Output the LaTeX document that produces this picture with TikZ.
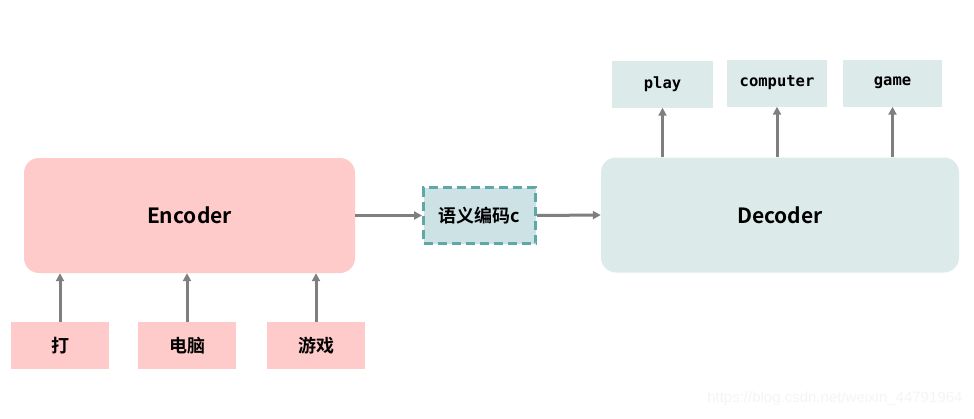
\documentclass[tikz,border=0pt]{standalone}
\usepackage{fontspec}
\setmainfont{Noto Sans CJK SC}[BoldFont={* Bold}]
\newfontfamily\monofont{DejaVu Sans Mono}
\newfontfamily\markfont{Liberation Sans}
\usetikzlibrary{arrows.meta}

\definecolor{pinkfill}{HTML}{FFCACA}
\definecolor{tealfill}{HTML}{DCEAEA}
\definecolor{codefill}{HTML}{CCE2E5}
\definecolor{codeedge}{HTML}{5FA8A8}
\definecolor{arrowgray}{HTML}{7F7F7F}

\tikzset{
	bigbox/.style={rounded corners=15pt, draw=none, minimum height=115pt, font=\bfseries\fontsize{21}{24}\selectfont},
	smallbox/.style={draw=none, minimum height=47pt, minimum width=98pt},
	flow/.style={draw=arrowgray, line width=3pt, -{Triangle[length=8pt,width=8pt]}},
}

\begin{document}
\begin{tikzpicture}[x=1pt,y=-1pt]
	\useasboundingbox[fill=white] (0,0) rectangle (974,418);

	% encoder side
	\node[bigbox, fill=pinkfill, minimum width=331pt] (enc) at (189.5,215.5) {Encoder};
	\node[smallbox, fill=pinkfill, font=\bfseries\fontsize{18}{20}\selectfont] (in1) at (60,345.5) {打};
	\node[smallbox, fill=pinkfill, font=\bfseries\fontsize{18}{20}\selectfont] (in2) at (187,345.5) {电脑};
	\node[smallbox, fill=pinkfill, font=\bfseries\fontsize{18}{20}\selectfont] (in3) at (316,345.5) {游戏};

	% semantic code
	\node[fill=codefill, draw=codeedge, line width=3pt, dash pattern=on 9pt off 5pt,
		minimum width=112pt, minimum height=56pt, font=\bfseries\fontsize{18}{20}\selectfont] (code) at (479.5,215.5) {语义编码c};

	% decoder side
	\node[bigbox, fill=tealfill, minimum width=358pt] (dec) at (780,215) {Decoder};
	\node[smallbox, fill=tealfill, minimum width=101pt, font=\monofont\bfseries\fontsize{15.5}{18}\selectfont] (out1) at (662.5,84) {play};
	\node[smallbox, fill=tealfill, minimum width=100pt, font=\monofont\bfseries\fontsize{15.5}{18}\selectfont] (out2) at (777,83) {computer};
	\node[smallbox, fill=tealfill, minimum width=99pt, font=\monofont\bfseries\fontsize{15.5}{18}\selectfont] (out3) at (892.5,83) {game};

	% connectors
	\draw[flow] (in1.north) -- (in1.north |- enc.south);
	\draw[flow] (in2.north) -- (in2.north |- enc.south);
	\draw[flow] (in3.north) -- (in3.north |- enc.south);
	\draw[flow] (enc.east) -- (code.west);
	\draw[flow] (code.east) -- (dec.west);
	\draw[flow] (dec.north -| out1.south) -- (out1.south);
	\draw[flow] (dec.north -| out2.south) -- (out2.south);
	\draw[flow] (dec.north -| out3.south) -- (out3.south);

	% watermark
	\node[text=black!4, font=\markfont\fontsize{15}{18}\selectfont, anchor=east] (mark) at (966,399) {https://blog.csdn.net/weixin\_44791964};
\end{tikzpicture}
\end{document}
